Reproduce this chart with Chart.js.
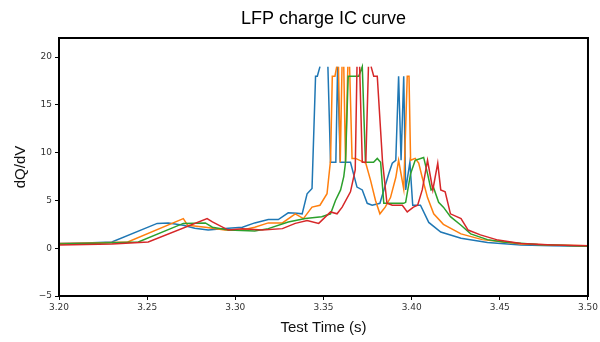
<!DOCTYPE html>
<html><head><meta charset="utf-8">
<script src="https://cdn.jsdelivr.net/npm/chart.js@4"></script>
<style>html,body{margin:0;padding:0;background:#fff}</style>
</head><body>
<canvas id="c" width="600" height="342"></canvas>
<script>
const titleText = "LFP charge IC curve";
const xTitle = "Test Time (s)";
const yTitle = "dQ/dV";
const xTicks = [3.20, 3.25, 3.30, 3.35, 3.40, 3.45, 3.50];
const yTicks = [-5, 0, 5, 10, 15, 20];
const seriesNames = ["Cycle 1", "Cycle 2", "Cycle 3", "Cycle 4"];
const seriesColors = ["#1f77b4", "#ff7f0e", "#2ca02c", "#d62728"];

const c1X = [3.200,3.215,3.230,3.2557,3.262,3.2705,3.277,3.2846,3.296,3.304,3.311,3.3187,3.3244,3.330,3.335,3.3379,3.3407,3.3435,3.3455,3.3465,3.348,3.350,3.3525,3.354,3.357,3.358,3.3595,3.3625,3.3653,3.369,3.372,3.3748,3.3776,3.382,3.387,3.389,3.391,3.3926,3.394,3.3955,3.3966,3.399,3.4006,3.405,3.4097,3.4165,3.428,3.443,3.462,3.480,3.500];
const c1Y = [0.5,0.55,0.66,2.6,2.65,2.4,2.1,1.9,2.1,2.2,2.65,3.0,3.0,3.7,3.65,3.6,5.7,6.25,18,18,19,null,19,9,9,19,9,9,9,6.4,6.1,4.7,4.5,4.7,7.8,8.9,9.2,18,9.2,18,6.1,9.0,4.5,4.5,2.7,1.7,1.05,0.6,0.35,0.25,0.2];

const c2X = [3.200,3.220,3.239,3.2705,3.273,3.283,3.294,3.304,3.311,3.3187,3.3267,3.334,3.3386,3.3435,3.348,3.352,3.354,3.355,3.3565,3.3575,3.358,3.3585,3.3595,3.3605,3.361,3.3615,3.3625,3.3638,3.3643,3.3648,3.3662,3.3682,3.374,3.3767,3.3795,3.382,3.385,3.388,3.391,3.3926,3.3955,3.3975,3.3985,3.3994,3.402,3.404,3.406,3.409,3.4125,3.418,3.428,3.440,3.450,3.462,3.480,3.500];
const c2Y = [0.5,0.55,0.66,3.1,2.4,2.2,1.9,1.9,2.2,2.65,2.65,3.6,3.1,4.3,4.5,5.7,9.2,18,18,19,null,19,9,19,null,19,9,19,null,19,9.4,9.4,8.9,7.1,5.0,3.6,4.3,5.3,7.4,9.2,6.2,18,18,9.2,9.4,8.9,7.4,5.3,3.6,2.5,1.5,0.9,0.7,0.45,0.35,0.25];

const c3X = [3.200,3.225,3.245,3.2705,3.283,3.287,3.296,3.311,3.3187,3.330,3.3397,3.349,3.354,3.3568,3.3597,3.3615,3.3625,3.364,3.370,3.372,3.3738,3.3784,3.3805,3.3824,3.3842,3.388,3.3955,3.3966,3.3994,3.402,3.4068,3.409,3.411,3.4125,3.4153,3.418,3.422,3.428,3.4335,3.443,3.452,3.4715,3.500];
const c3Y = [0.45,0.55,0.66,2.6,2.65,2.2,1.9,1.8,2.05,2.75,3.1,3.3,3.6,5.0,6.1,7.5,9.0,18,18,19,9.0,9.0,9.4,9.0,4.7,4.7,4.7,4.8,7.8,9.2,9.5,7.8,6.1,6.3,4.8,4.3,3.3,2.4,1.5,0.9,0.65,0.4,0.2];

const c4X = [3.200,3.230,3.2506,3.284,3.287,3.296,3.304,3.3153,3.3267,3.334,3.3407,3.3473,3.354,3.3577,3.3606,3.3653,3.368,3.369,3.370,3.3705,3.372,3.374,3.3755,3.3762,3.377,3.3785,3.3805,3.3835,3.386,3.389,3.3947,3.3975,3.401,3.4034,3.406,3.409,3.412,3.4148,3.4165,3.419,3.422,3.428,3.432,3.439,3.449,3.462,3.480,3.500];
const c4Y = [0.35,0.45,0.66,3.1,2.75,1.9,2.05,1.9,2.05,2.6,2.9,2.6,3.8,3.6,4.3,5.9,8.2,19,null,19,9,9,19,null,19,18,18,9,4.7,4.5,4.5,3.8,4.3,4.5,6.1,9.2,6.1,8.9,6.1,5.9,3.6,3.1,1.9,1.4,0.85,0.5,0.35,0.25];

const seriesX = [c1X, c2X, c3X, c4X];
const seriesY = [c1Y, c2Y, c3Y, c4Y];

const datasets = seriesNames.map((name, i) => ({
  label: name,
  data: seriesX[i].map((x, j) => ({ x: x, y: seriesY[i][j] })),
  borderColor: seriesColors[i],
  backgroundColor: seriesColors[i],
  borderWidth: 1.5,
  pointRadius: 0,
  tension: 0,
  fill: false,
  spanGaps: false,
  order: 3 - i
}));

const framePlugin = {
  id: 'frame',
  afterDatasetsDraw(chart) {
    const { ctx, chartArea: a } = chart;
    ctx.save();
    ctx.strokeStyle = '#000';
    ctx.lineWidth = 2;
    ctx.strokeRect(a.left, a.top, a.right - a.left, a.bottom - a.top);
    ctx.restore();
  }
};

const tickFont = { family: '"DejaVu Sans", sans-serif', size: 9 };

new Chart(document.getElementById('c'), {
  type: 'line',
  data: { datasets },
  plugins: [framePlugin],
  options: {
    responsive: false,
    devicePixelRatio: 1,
    animation: false,
    layout: { padding: { left: 0, right: 12, top: 0, bottom: 0 } },
    plugins: {
      legend: { display: false },
      tooltip: { enabled: false },
      title: {
        display: true,
        fullSize: false,
        text: titleText,
        color: '#000',
        font: { family: '"Liberation Sans", Arial, sans-serif', size: 18, weight: 'normal' },
        padding: { top: 8.2, bottom: 8.2 }
      }
    },
    scales: {
      x: {
        type: 'linear',
        min: 3.20,
        max: 3.50,
        afterBuildTicks: (s) => { s.ticks = xTicks.map(v => ({ value: v })); },
        afterFit: (s) => { s.height = 46; },
        ticks: {
          color: '#333',
          font: tickFont,
          padding: 2,
          maxRotation: 0,
          autoSkip: false,
          callback: (v) => Number(v).toFixed(2)
        },
        grid: { display: true, drawOnChartArea: false, drawTicks: true, tickLength: 4, color: '#000', lineWidth: 1 },
        border: { display: false },
        title: {
          display: true,
          text: xTitle,
          color: '#111',
          font: { family: '"Liberation Sans", Arial, sans-serif', size: 15 },
          padding: { top: 0, bottom: 5 }
        }
      },
      y: {
        type: 'linear',
        min: -5,
        max: 22,
        afterBuildTicks: (s) => { s.ticks = yTicks.map(v => ({ value: v })); },
        afterFit: (s) => { s.width = 59; },
        ticks: {
          color: '#333',
          font: tickFont,
          padding: 3,
          autoSkip: false,
          callback: (v) => v < 0 ? '\u2212' + Math.abs(v) : String(v)
        },
        grid: { display: true, drawOnChartArea: false, drawTicks: true, tickLength: 4, color: '#000', lineWidth: 1 },
        border: { display: false },
        title: {
          display: true,
          text: yTitle,
          color: '#111',
          font: { family: '"Liberation Sans", Arial, sans-serif', size: 15 },
          padding: { top: 12, bottom: 0 }
        }
      }
    }
  }
});
</script>
</body></html>
